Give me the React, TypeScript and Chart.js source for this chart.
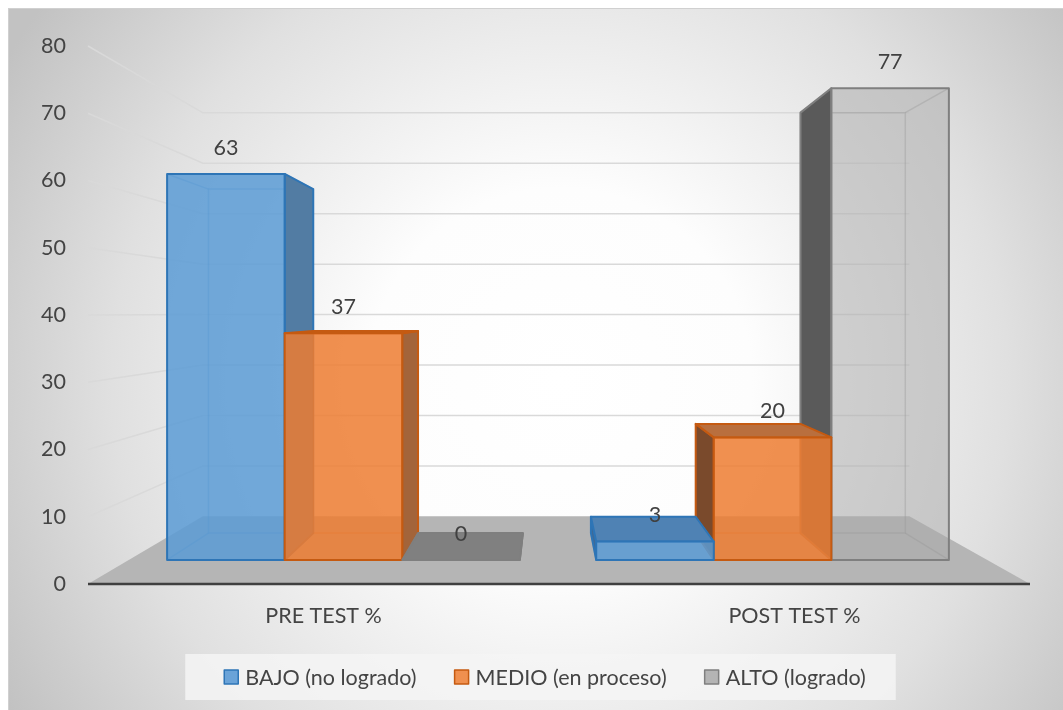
import React, { useEffect, useRef } from "react";
import { Chart, registerables } from "chart.js";

Chart.register(...registerables);

// ---- data ----
const categories = ["PRE TEST %", "POST TEST %"];
const seriesNames = ["BAJO (no logrado)", "MEDIO (en proceso)", "ALTO (logrado)"];
const bajoValues = [63, 3];
const medioValues = [37, 20];
const altoValues = [0, 77];
const yMin = 0;
const yMax = 80;
const yStep = 10;

// ---- styles ----
const FONT_FAMILY = "Lato, 'Open Sans', 'Liberation Sans', sans-serif";
const TEXT_COLOR = "#444444";
const LABEL_COLOR = "#404040";
const FONT_SIZE = 21.5;

const seriesStyles = [
  { front: "rgba(91,155,213,0.85)", border: "#2e75b6", sideR: "#527ca3", sideL: "#3f6a96", top: "#4f82b4", swatch: "#6aa3d8" },
  { front: "rgba(237,125,49,0.85)", border: "#c55a11", sideR: "#a3643a", sideL: "#7a4a2c", top: "#b96f3e", swatch: "#f0904f" },
  { front: "rgba(170,170,170,0.5)", border: "#7f7f7f", sideR: "#6a6a6a", sideL: "#5a5a5a", top: "#808080", swatch: "#b4b4b4" },
];

// perspective parameters (fractions of plot area / depth scales)
const VX_FRAC = 0.488;
const VY_FRAC = 0.497;
const S_WALL = 0.75;
const S_BAR_FRONT = 0.911;
const S_BAR_BACK = 0.812;

type Pt = [number, number];

function makeProj(ca: any) {
  const vx = ca.left + (ca.right - ca.left) * VX_FRAC;
  const vy = ca.top + (ca.bottom - ca.top) * VY_FRAC;
  const p = (x: number, y: number, s: number): Pt => [vx + s * (x - vx), vy + s * (y - vy)];
  return { vx, vy, p };
}

function poly(ctx: CanvasRenderingContext2D, pts: Pt[]) {
  ctx.beginPath();
  ctx.moveTo(pts[0][0], pts[0][1]);
  for (let i = 1; i < pts.length; i++) ctx.lineTo(pts[i][0], pts[i][1]);
  ctx.closePath();
}

const threeDPlugin = {
  id: "threeD",
  beforeDraw(chart: any) {
    const { ctx, width, height } = chart;
    ctx.save();
    const g = ctx.createRadialGradient(560, 380, 0, 560, 380, 640);
    g.addColorStop(0, "#ffffff");
    g.addColorStop(0.3, "#fdfdfd");
    g.addColorStop(0.7, "#e0e0e0");
    g.addColorStop(1, "#c2c2c2");
    ctx.fillStyle = "#ffffff";
    ctx.fillRect(0, 0, width, height);
    ctx.fillStyle = g;
    ctx.fillRect(8, 8, width - 8, height - 8);
    ctx.strokeStyle = "#d0d0d0";
    ctx.lineWidth = 1;
    ctx.strokeRect(8.5, 8.5, width, height);
    ctx.restore();
  },
  beforeDatasetsDraw(chart: any) {
    const { ctx, chartArea: ca } = chart;
    const yScale = chart.scales.y;
    const { p } = makeProj(ca);
    const y0 = yScale.getPixelForValue(0);
    ctx.save();
    // floor
    poly(ctx, [p(ca.left, y0, 1), p(ca.right, y0, 1), p(ca.right, y0, S_WALL), p(ca.left, y0, S_WALL)]);
    ctx.fillStyle = "#b5b5b5";
    ctx.fill();
    // gridlines on side + back wall
    ctx.strokeStyle = "#d9d9d9";
    ctx.lineWidth = 1.5;
    yScale.ticks.forEach((t: any) => {
      if (t.value <= 0) return;
      const yf = yScale.getPixelForValue(t.value);
      const a = p(ca.left, yf, 1);
      const b = p(ca.left, yf, S_WALL);
      const c = p(ca.right, yf, S_WALL);
      ctx.beginPath();
      ctx.moveTo(a[0], a[1]);
      ctx.lineTo(b[0], b[1]);
      ctx.lineTo(c[0], c[1]);
      ctx.stroke();
    });
    // axis line
    ctx.strokeStyle = "#404040";
    ctx.lineWidth = 2.5;
    ctx.beginPath();
    ctx.moveTo(ca.left, y0);
    ctx.lineTo(ca.right, y0);
    ctx.stroke();
    ctx.restore();
  },
  afterDatasetsDraw(chart: any) {
    const { ctx, chartArea: ca } = chart;
    const { vx, vy, p } = makeProj(ca);
    const items: any[] = [];
    chart.data.datasets.forEach((ds: any, di: number) => {
      const meta = chart.getDatasetMeta(di);
      meta.data.forEach((el: any, i: number) => {
        const { x, y, base, width } = el.getProps(["x", "y", "base", "width"], true);
        items.push({ di, i, xl: x - width / 2, xr: x + width / 2, yt: y, yb: base, value: ds.data[i] });
      });
    });
    items.sort((a, b) => Math.abs((b.xl + b.xr) / 2 - vx) - Math.abs((a.xl + a.xr) / 2 - vx));

    ctx.save();
    ctx.lineJoin = "round";
    items.forEach((it) => {
      const st = seriesStyles[it.di];
      const F = (x: number, y: number) => p(x, y, S_BAR_FRONT);
      const B = (x: number, y: number) => p(x, y, S_BAR_BACK);
      const fTL = F(it.xl, it.yt), fTR = F(it.xr, it.yt), fBR = F(it.xr, it.yb), fBL = F(it.xl, it.yb);
      const bTL = B(it.xl, it.yt), bTR = B(it.xr, it.yt), bBR = B(it.xr, it.yb), bBL = B(it.xl, it.yb);

      // hidden back edges
      ctx.globalAlpha = 0.35;
      ctx.strokeStyle = st.border;
      ctx.lineWidth = 1.5;
      poly(ctx, [bTL, bTR, bBR, bBL]);
      ctx.stroke();
      [[fTL, bTL], [fTR, bTR], [fBR, bBR], [fBL, bBL]].forEach(([a, b]) => {
        ctx.beginPath();
        ctx.moveTo(a[0], a[1]);
        ctx.lineTo(b[0], b[1]);
        ctx.stroke();
      });
      ctx.globalAlpha = 1;

      ctx.lineWidth = 2;
      ctx.strokeStyle = st.border;
      // side faces
      if (fTR[0] < vx) {
        poly(ctx, [fTR, bTR, bBR, fBR]);
        ctx.fillStyle = st.sideR;
        ctx.fill();
        ctx.stroke();
      }
      if (fTL[0] > vx) {
        poly(ctx, [fTL, bTL, bBL, fBL]);
        ctx.fillStyle = st.sideL;
        ctx.fill();
        ctx.stroke();
      }
      // top face
      if (fTL[1] > vy) {
        poly(ctx, [fTL, fTR, bTR, bTL]);
        ctx.fillStyle = st.top;
        ctx.fill();
        ctx.stroke();
      }
      // front face
      if (Math.abs(fBL[1] - fTL[1]) > 0.5) {
        poly(ctx, [fTL, fTR, fBR, fBL]);
        ctx.fillStyle = st.front;
        ctx.fill();
        ctx.stroke();
      }
    });

    // data labels
    ctx.fillStyle = LABEL_COLOR;
    ctx.font = `${FONT_SIZE}px ${FONT_FAMILY}`;
    ctx.textAlign = "center";
    ctx.textBaseline = "middle";
    items.forEach((it) => {
      const a = p(it.xl, it.yt, S_BAR_FRONT);
      const b = p(it.xr, it.yt, S_BAR_FRONT);
      ctx.fillText(String(it.value), (a[0] + b[0]) / 2, a[1] - 26);
    });

    // legend
    const boxW = 14, boxH = 14, gapText = 7, gapItem = 38;
    const widths = seriesNames.map((n) => ctx.measureText(n).width);
    const total = widths.reduce((s, w) => s + boxW + gapText + w, 0) + gapItem * (seriesNames.length - 1);
    const center = 545;
    let x = center - total / 2;
    const ly = 677;
    ctx.fillStyle = "rgba(244,244,244,0.85)";
    ctx.fillRect(x - 39, 654, total + 69, 46);
    ctx.textAlign = "left";
    seriesNames.forEach((n, i) => {
      const st = seriesStyles[i];
      ctx.fillStyle = st.swatch;
      ctx.fillRect(x, ly - boxH / 2, boxW, boxH);
      ctx.strokeStyle = st.border;
      ctx.lineWidth = 1.5;
      ctx.strokeRect(x, ly - boxH / 2, boxW, boxH);
      ctx.fillStyle = TEXT_COLOR;
      ctx.fillText(n, x + boxW + gapText, ly + 1);
      x += boxW + gapText + widths[i] + gapItem;
    });
    ctx.restore();
  },
};

export default function App() {
  const ref = useRef<HTMLCanvasElement | null>(null);
  useEffect(() => {
    if (!ref.current) return;
    const datasets = [bajoValues, medioValues, altoValues].map((vals, i) => ({
      label: seriesNames[i],
      data: vals,
      backgroundColor: "rgba(0,0,0,0)",
      borderWidth: 0,
      categoryPercentage: 0.822,
      barPercentage: 1.0,
    }));
    const chart = new Chart(ref.current, {
      type: "bar",
      data: { labels: categories, datasets },
      plugins: [threeDPlugin],
      options: {
        animation: false,
        responsive: true,
        maintainAspectRatio: false,
        layout: { padding: { left: 0, top: 46, right: 33, bottom: 0 } },
        plugins: { legend: { display: false }, tooltip: { enabled: false } },
        scales: {
          x: {
            grid: { display: false, drawTicks: false },
            border: { display: false },
            ticks: { color: TEXT_COLOR, font: { family: FONT_FAMILY, size: FONT_SIZE }, padding: 19 },
            afterFit: (s: any) => { s.height = 126; },
          },
          y: {
            min: yMin,
            max: yMax,
            grid: { display: false, drawTicks: false },
            border: { display: false },
            ticks: { stepSize: yStep, color: TEXT_COLOR, font: { family: FONT_FAMILY, size: FONT_SIZE }, padding: 22 },
            afterFit: (s: any) => { s.width = 88; },
          },
        },
      },
    } as any);
    return () => chart.destroy();
  }, []);
  return (
    <div style={{ position: "fixed", left: 0, top: 0, width: 1063, height: 710 }}>
      <canvas ref={ref} />
    </div>
  );
}
